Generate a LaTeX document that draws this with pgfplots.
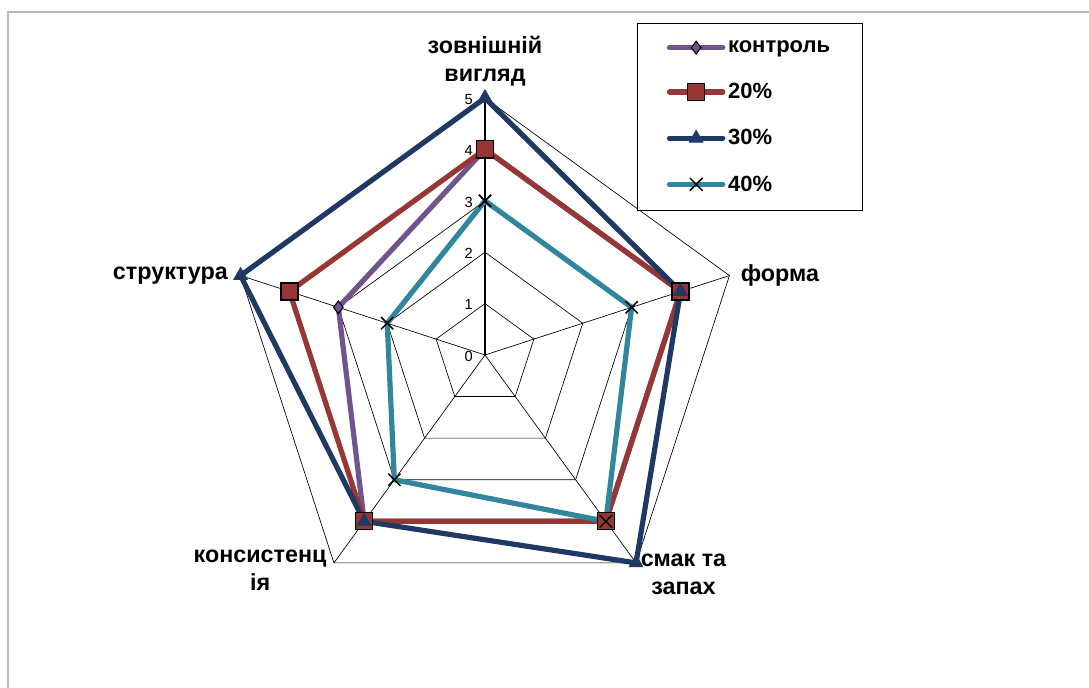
\documentclass[border=0pt]{standalone}
\usepackage{fontspec}
\setmainfont{Liberation Sans}
\usepackage{pgfplots}
\pgfplotsset{compat=1.18}
\usepgfplotslibrary{polar}

\definecolor{cCtrl}{RGB}{112,84,142}
\definecolor{cTwenty}{RGB}{150,55,53}
\definecolor{cThirty}{RGB}{31,56,100}
\definecolor{cForty}{RGB}{49,133,156}
\definecolor{frame}{RGB}{185,185,185}

\newcommand\lbl{\bfseries\fontsize{17.5}{21}\selectfont}

\begin{document}
\begin{tikzpicture}
% page and chart frame
\path[use as bounding box] (0,0) rectangle (816.75pt,516pt);
\draw[frame, line width=1pt] (6pt,0pt) -- (6pt,507pt) -- (816.75pt,507pt);

\begin{polaraxis}[
  at={(363.75pt,249.75pt)}, anchor=center,
  width=385.5pt, height=385.5pt, scale only axis,
  xmin=0, xmax=360, ymin=0, ymax=5,
  hide axis, clip=false,
  legend style={
    at={(0.796,1.146)}, anchor=north west,
    draw=black, line width=0.6pt,
    font=\bfseries\fontsize{16.5}{20}\selectfont,
    inner xsep=22pt, inner ysep=11pt,
    row sep=17.6pt,
    legend cell align=left,
  },
  legend image code/.code={
    \draw[#1, line cap=round, mark repeat=2, mark phase=2]
      plot coordinates {(0pt,0pt) (20pt,0pt) (40pt,0pt)};
  },
  every axis plot/.append style={line join=miter},
]
% pentagon grid
\addplot[black, line width=0.5pt, forget plot] coordinates {(90,1)(18,1)(306,1)(234,1)(162,1)(90,1)};
\addplot[black, line width=0.5pt, forget plot] coordinates {(90,2)(18,2)(306,2)(234,2)(162,2)(90,2)};
\addplot[black, line width=0.5pt, forget plot] coordinates {(90,3)(18,3)(306,3)(234,3)(162,3)(90,3)};
\addplot[black, line width=0.5pt, forget plot] coordinates {(90,4)(18,4)(306,4)(234,4)(162,4)(90,4)};
\addplot[black, line width=0.5pt, forget plot] coordinates {(90,5)(18,5)(306,5)(234,5)(162,5)(90,5)};
% spokes
\addplot[black, line width=1pt, forget plot] coordinates {(90,0)(90,5)};
\addplot[black, line width=0.5pt, forget plot] coordinates {(18,0)(18,5)};
\addplot[black, line width=0.5pt, forget plot] coordinates {(306,0)(306,5)};
\addplot[black, line width=0.5pt, forget plot] coordinates {(234,0)(234,5)};
\addplot[black, line width=0.5pt, forget plot] coordinates {(162,0)(162,5)};

% series
\addplot[cCtrl, line width=3.9pt, mark=diamond*, mark size=4.8pt,
  mark options={fill=cCtrl, draw=black, line width=0.8pt, solid}]
  coordinates {(90,4)(18,4)(306,4)(234,4)(162,3)(90,4)};
\addlegendentry{контроль}
\addplot[cTwenty, line width=3.9pt, mark=square*, mark size=6.4pt,
  mark options={fill=cTwenty, draw=black, line width=0.9pt, solid}]
  coordinates {(90,4)(18,4)(306,4)(234,4)(162,4)(90,4)};
\addlegendentry{20\%}
\addplot[cThirty, line width=3.9pt, mark=triangle*, mark size=6pt,
  mark options={fill=cThirty, draw=cThirty, line width=0.5pt, solid}]
  coordinates {(90,5)(18,4)(306,5)(234,4)(162,5)(90,5)};
\addlegendentry{30\%}
\addplot[cForty, line width=3.9pt, mark=x, mark size=6.5pt,
  mark options={draw=black, line width=1.1pt, solid}]
  coordinates {(90,3)(18,3)(306,4)(234,3)(162,2)(90,3)};
\addlegendentry{40\%}

% radial scale
\pgfplotsinvokeforeach{0,...,5}{
  \node[anchor=east, inner sep=1pt, font=\fontsize{11}{12}\selectfont]
    at (axis cs:90,#1) [xshift=-8pt, yshift=-1pt] {#1};
}

% category labels
\node[anchor=south, align=center, font=\lbl, yshift=5pt] at (axis cs:90,5) {зовнішній\\вигляд};
\node[anchor=west, font=\lbl, xshift=5pt] at (axis cs:18,5) {форма};
\node[anchor=north west, align=center, font=\lbl, xshift=0pt, yshift=10pt] at (axis cs:306,5) {смак та\\запах};
\node[anchor=north east, align=center, font=\lbl, xshift=-2pt, yshift=13pt] at (axis cs:234,5) {консистенц\\ія};
\node[anchor=east, font=\lbl, xshift=-6pt] at (axis cs:162,5) {структура};
\end{polaraxis}
\end{tikzpicture}
\end{document}
